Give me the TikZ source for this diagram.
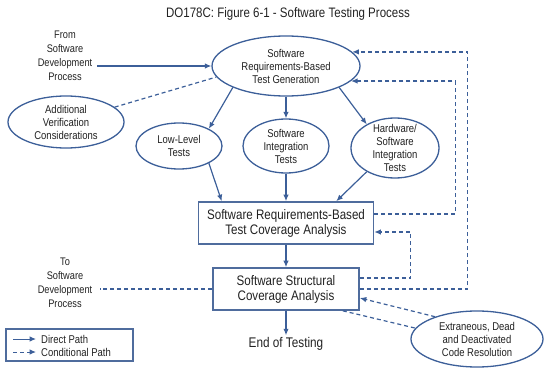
\documentclass[tikz,border=0pt]{standalone}
\usepackage{fontspec}
\setmainfont[FakeStretch=0.84]{Liberation Sans}
\usetikzlibrary{arrows.meta,shapes.geometric}
\definecolor{flowblue}{HTML}{3C5F99}
\definecolor{boxblue}{HTML}{4F6C9D}
\definecolor{inkgray}{HTML}{222222}
\tikzset{
  small/.style={font=\fontsize{11.3}{13}\selectfont, text=inkgray, align=center},
  oval/.style={ellipse, draw=flowblue, line width=1.3pt, fill=white, small, inner sep=0pt},
  stagebox/.style={rectangle, draw=boxblue, line width=1.6pt, fill=white,
    font=\fontsize{13.8}{15}\selectfont, text=inkgray, align=center, inner sep=0pt},
  direct/.style={draw=flowblue, line width=1.2pt, -{Latex[length=6.5pt,width=5.5pt]}},
  cond/.style={draw=flowblue, line width=1.2pt, dash pattern=on 4pt off 3pt, -{Latex[length=6.5pt,width=5.5pt]}},
  condline/.style={draw=flowblue, line width=1.2pt, dash pattern=on 4pt off 3pt},
}
\begin{document}
\begin{tikzpicture}[x=1pt,y=-1pt]
\useasboundingbox (0,0) rectangle (544,369);

% title
\node[font=\fontsize{13.7}{15}\selectfont, text=inkgray] (title) at (288,14) {DO178C: Figure 6-1 - Software Testing Process};

% process stages
\node[oval, minimum width=148pt, minimum height=60pt] (gen) at (286,66)
  {Software\\Requirements-Based\\Test Generation};
\node[oval, minimum width=116pt, minimum height=52pt] (addv) at (66,122)
  {Additional\\Verification\\Considerations};
\node[oval, minimum width=86pt, minimum height=46pt] (low) at (179,146)
  {Low-Level\\Tests};
\node[oval, minimum width=86pt, minimum height=54pt] (sit) at (286,146)
  {Software\\Integration\\Tests};
\node[oval, minimum width=88pt, minimum height=60pt, inner ysep=-4pt] (hsit) at (395,148)
  {Hardware/\\Software\\Integration\\Tests};
\node[stagebox, minimum width=175pt, minimum height=42pt] (rba) at (286,223)
  {Software Requirements-Based\\Test Coverage Analysis};
\node[stagebox, minimum width=146pt, minimum height=42pt] (sca) at (286,289)
  {Software Structural\\Coverage Analysis};
\node[font=\fontsize{14}{15}\selectfont, text=inkgray, inner sep=2pt] (end) at (286,344) {End of Testing};
\node[oval, minimum width=132pt, minimum height=56pt] (ext) at (477,339)
  {Extraneous, Dead\\and Deactivated\\Code Resolution};

\node[small, font=\fontsize{11}{14}\selectfont] (fromdev) at (65,56)
  {From\\Software\\Development\\Process};
\node[small, font=\fontsize{11}{14}\selectfont] (todev) at (65,283)
  {To\\Software\\Development\\Process};

\coordinate (fromend) at (97,66);
\coordinate (toend) at (100,289);

% direct paths
\draw[direct] (fromend) -- (gen.west);
\draw[direct] (gen.202) -- (low.30);
\draw[direct] (gen.south) -- (sit.north);
\draw[direct] (gen.-22) -- (hsit.140);
\draw[direct] (low.-30) -- ([xshift=24pt]rba.north west);
\draw[direct] (sit.south) -- (rba.north);
\draw[direct] (hsit.220) -- ([xshift=-38pt]rba.north east);
\draw[direct] (rba.south) -- (sca.north);
\draw[direct] (sca.south) -- (end.north);

% conditional paths
\draw[condline] (addv.17) -- (gen.189);
\draw[cond] ([yshift=9pt]rba.east) -- ++(81,0) |- (gen.-13);
\draw[cond] ([yshift=11pt]sca.east) -- ++(51,0) |- ([yshift=-9pt]rba.east);
\draw[cond] (sca.east) -- ++(108,0) |- (gen.12);
\draw[cond] (ext.152) -- ([yshift=-9pt]sca.east);
\draw[condline] ([xshift=-17pt]sca.south east) -- (ext.170);
\draw[condline] (sca.west) -- (toend);

% legend
\node[draw=boxblue, line width=1.3pt, minimum width=127pt, minimum height=32pt, inner sep=0pt] (legend) at (69.5,345) {};
\coordinate (d1) at (13,339);
\coordinate (d2) at (36,339);
\coordinate (c1) at (13,352);
\coordinate (c2) at (36,352);
\draw[direct, line width=1pt] (d1) -- (d2);
\draw[cond, line width=1pt] (c1) -- (c2);
\node[small, anchor=west, inner sep=0pt] (ldirect) at (41,339) {Direct Path};
\node[small, anchor=west, inner sep=0pt] (lcond) at (41,352) {Conditional Path};
\end{tikzpicture}
\end{document}
